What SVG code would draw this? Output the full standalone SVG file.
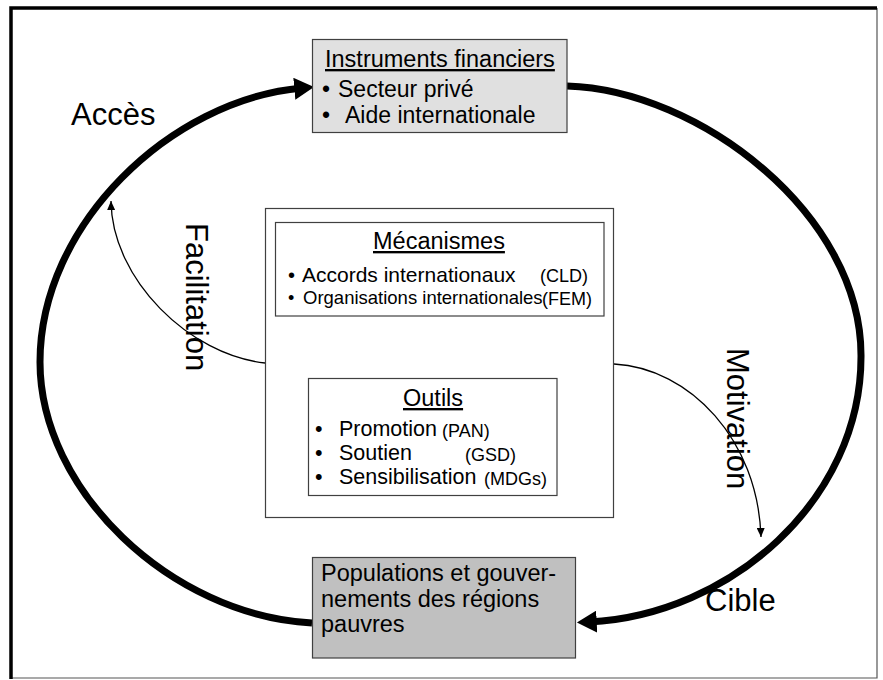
<svg xmlns="http://www.w3.org/2000/svg" width="883" height="680" viewBox="0 0 883 680">
<style>
text{font-family:"Liberation Sans",Arial,sans-serif;fill:#000}
.box{stroke:#404040;stroke-width:1.2}
.h{font-size:23.5px;text-decoration:underline}
.big{fill:none;stroke:#000;stroke-width:7;stroke-linecap:butt}
.thin{fill:none;stroke:#000;stroke-width:1.3}
.lab{font-size:31px}
.sm{font-size:18px}
</style>
<defs>
<marker id="bigArrow" markerUnits="userSpaceOnUse" markerWidth="20" markerHeight="22" viewBox="0 0 18 20" refX="7" refY="10" orient="auto">
<path d="M0,0 L18,10 L0,20 Z" fill="#000"/>
</marker>
<marker id="smallArrow" markerUnits="userSpaceOnUse" markerWidth="9" markerHeight="8" viewBox="0 0 9 8" refX="9" refY="4" orient="auto">
<path d="M0,0 L9,4 L0,8 Z" fill="#000"/>
</marker>
</defs>
<rect width="883" height="680" fill="#fff"/>
<g id="frame">
<path d="M877,8 L877,678 L11,678" fill="none" stroke="#555" stroke-width="1.2"/>
<path d="M11,679 L11,8 L877,8" fill="none" stroke="#000" stroke-width="3.5"/>
</g>
<g id="connectors">
<path class="big" d="M312,623 C170,615 40,490 40,362 C40,225 170,100 302,88" marker-end="url(#bigArrow)"/>
<path class="big" d="M567,86 C700,90 861,215 861,355 C862,500 730,615 589,622" marker-end="url(#bigArrow)"/>
<path class="thin" d="M265,363 C190,355 112,280 111,201" marker-end="url(#smallArrow)"/>
<path class="thin" d="M614,364 C690,368 758,440 761,537" marker-end="url(#smallArrow)"/>
<path class="thin" d="M430,316 L430,378" marker-end="url(#smallArrow)"/>
</g>
<g id="instruments">
<rect class="box" x="312.5" y="39.5" width="254.5" height="93" fill="#e0e0e0"/>
<text class="h" x="325" y="67">Instruments financiers</text>
<text x="322" y="97" font-size="23px">•</text>
<text x="338" y="97" font-size="23px">Secteur privé</text>
<text x="322" y="123" font-size="23px">•</text>
<text x="345" y="123" font-size="23px">Aide internationale</text>
</g>
<g id="centre">
<rect class="box" x="265.5" y="208.5" width="348" height="309" fill="#fff"/>
</g>
<g id="mecanismes">
<rect class="box" x="275.5" y="222.5" width="328.5" height="93.5" fill="#fff"/>
<text class="h" x="373" y="249">Mécanismes</text>
<text x="288" y="282" font-size="20px">•</text>
<text x="302" y="282" font-size="21px">Accords internationaux</text>
<text class="sm" x="540" y="282">(CLD)</text>
<text x="288" y="304" font-size="18px">•</text>
<text x="303" y="304" font-size="18.5px">Organisations internationales</text>
<text class="sm" x="542" y="305">(FEM)</text>
</g>
<g id="outils">
<rect class="box" x="308.5" y="378.5" width="248.5" height="117" fill="#fff"/>
<text class="h" x="403" y="406">Outils</text>
<text x="315" y="436" font-size="21.5px">•</text>
<text x="339" y="436" font-size="21.5px">Promotion</text>
<text class="sm" x="442" y="437">(PAN)</text>
<text x="315" y="460" font-size="21.5px">•</text>
<text x="339" y="460" font-size="21.5px">Soutien</text>
<text class="sm" x="465" y="461">(GSD)</text>
<text x="315" y="484" font-size="21.5px">•</text>
<text x="339" y="484" font-size="21.5px">Sensibilisation</text>
<text class="sm" x="484" y="485">(MDGs)</text>
</g>
<g id="populations">
<rect class="box" x="312.5" y="557.5" width="263" height="100.5" fill="#c0c0c0"/>
<text x="321" y="581" font-size="23.5px">Populations et gouver-</text>
<text x="321" y="607" font-size="23.5px">nements des régions</text>
<text x="321" y="632" font-size="23.5px">pauvres</text>
</g>
<g id="labels">
<text class="lab" x="71" y="125">Accès</text>
<text class="lab" x="705" y="611">Cible</text>
<text class="lab" transform="translate(186,223) rotate(90)">Facilitation</text>
<text class="lab" transform="translate(727,348) rotate(90)">Motivation</text>
</g>
</svg>
